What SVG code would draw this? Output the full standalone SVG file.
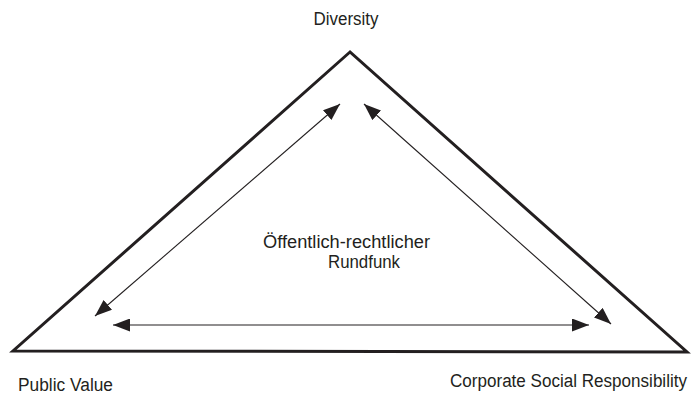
<svg xmlns="http://www.w3.org/2000/svg" width="693" height="396" viewBox="0 0 693 396">
<style>
text{font-family:"Liberation Sans",Arial,sans-serif;font-size:18px;fill:#231f20}
.arr{stroke:#231f20;stroke-width:1.1;fill:none;marker-start:url(#ah);marker-end:url(#ah)}
</style>
<defs>
<marker id="ah" viewBox="0 0 17 13" refX="17" refY="6.5" markerWidth="17" markerHeight="13" markerUnits="userSpaceOnUse" orient="auto-start-reverse">
<path d="M0,0 L17,6.5 L0,13 Z" fill="#231f20"/>
</marker>
</defs>
<rect width="693" height="396" fill="#fff"/>
<g id="triangle">
<polygon points="350,52 13,351 687,352" fill="none" stroke="#231f20" stroke-width="3" stroke-linejoin="miter"/>
</g>
<g id="diversity"><text x="346" y="25" text-anchor="middle" textLength="65" lengthAdjust="spacingAndGlyphs">Diversity</text></g>
<g id="public-value"><text x="18" y="391" textLength="95" lengthAdjust="spacingAndGlyphs">Public Value</text></g>
<g id="csr"><text x="687" y="387" text-anchor="end" textLength="237" lengthAdjust="spacingAndGlyphs">Corporate Social Responsibility</text></g>
<g id="center"><text x="263" y="248" textLength="167" lengthAdjust="spacingAndGlyphs">Öffentlich-rechtlicher</text><text x="328" y="268" textLength="72" lengthAdjust="spacingAndGlyphs">Rundfunk</text></g>
<g id="connectors">
<line class="arr" x1="95" y1="316" x2="340" y2="104"/>
<line class="arr" x1="364" y1="104" x2="611" y2="324"/>
<line class="arr" x1="113" y1="325" x2="589" y2="325"/>
</g>
</svg>
